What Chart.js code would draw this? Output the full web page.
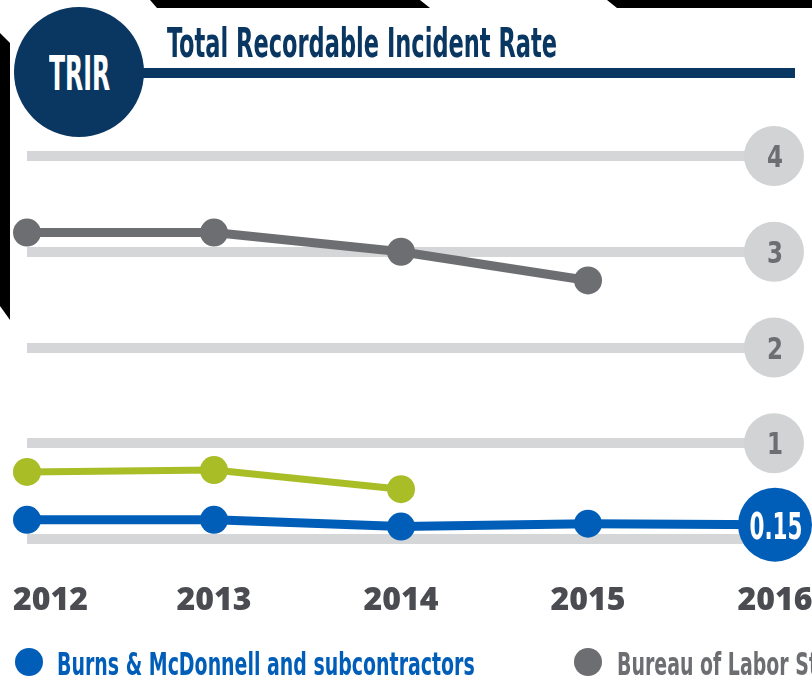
<!DOCTYPE html>
<html>
<head>
<meta charset="utf-8">
<title>TRIR</title>
<script src="https://cdn.jsdelivr.net/npm/chart.js@4.4.1/dist/chart.umd.min.js"></script>
<style>
  html, body { margin: 0; padding: 0; background: #fff; }
  body { width: 812px; height: 681px; overflow: hidden; position: relative;
         font-family: 'Liberation Sans Narrow', 'DejaVu Sans Condensed', sans-serif; font-weight: bold; }
  #c { position: absolute; left: 0; top: 0; }
  .deco { position: absolute; background: #000; }
  .txt { position: absolute; white-space: nowrap; line-height: 1; transform-origin: 0 0; }
  .dot { position: absolute; width: 28px; height: 28px; border-radius: 50%; }
</style>
</head>
<body>
<canvas id="c" width="900" height="681"></canvas>

<!-- cropped bits of the surrounding layout -->
<div class="deco" style="left:150px;top:0;width:280px;height:8px;clip-path:polygon(0 0,270px 0,280px 8px,7px 8px)"></div>
<div class="deco" style="left:607px;top:0;width:205px;height:8px;clip-path:polygon(0 0,100% 0,100% 100%,10px 100%)"></div>
<div class="deco" style="left:0;top:33px;width:10px;height:287px;clip-path:polygon(0 0,10px 10px,10px 287px,0 273px)"></div>

<div style="position:absolute;left:140px;top:68px;width:655px;height:10px;background:#0a3761"></div>
<div style="position:absolute;left:14px;top:7px;width:130px;height:130px;border-radius:50%;background:#0a3761"></div>
<div class="txt" id="badge" style="left:49px;top:49px;font-size:48px;color:#fff"></div>
<div class="txt" id="title" style="left:167px;top:23px;font-size:40px;color:#0a3761"></div>

<div id="legend"></div>

<script>
const years = ['2012', '2013', '2014', '2015', '2016'];
const burnsSubs = [0.20, 0.20, 0.13, 0.16, 0.15];
const burnsOwn = [0.70, 0.72, 0.52, null, null];
const laborStats = [3.2, 3.2, 3.0, 2.7, null];
const rateTicks = [1, 2, 3, 4];
const latestLabel = '0.15';

const seriesNames = ['Burns & McDonnell and subcontractors', 'Burns & McDonnell employees', 'Bureau of Labor Statistics'];
const seriesColors = ['#005eb8', '#a9bd27', '#6d6e71'];
const legendItems = [0, 2]; // only these show in the crop

const titleText = 'Total Recordable Incident Rate';
const badgeText = 'TRIR';

const condensed = "'Liberation Sans Narrow', 'DejaVu Sans Condensed', sans-serif";

// squeeze html text to the width it has in the picture
function fitText(el, text, width) {
    el.textContent = text;
    let w = el.offsetWidth;
    el.style.transform = 'scaleX(' + (width / w) + ')';
    return width / w;
}

function buildLegend() {
    const box = document.getElementById('legend');
    const spots = [{dot: 15, text: 57}, {dot: 574, text: 617}];
    let scale = null;
    legendItems.forEach((idx, i) => {
        let d = document.createElement('div');
        d.className = 'dot';
        d.style.left = spots[i].dot + 'px';
        d.style.top = '648px';
        d.style.background = seriesColors[idx];
        box.appendChild(d);

        let t = document.createElement('div');
        t.className = 'txt';
        t.style.left = spots[i].text + 'px';
        t.style.top = '648px';
        t.style.fontSize = '32px';
        t.style.color = idx === 0 ? '#005eb8' : '#6d6e71';
        box.appendChild(t);
        if (scale === null) {
            scale = fitText(t, seriesNames[idx], 418);
        } else {
            t.textContent = seriesNames[idx];
            t.style.transform = 'scaleX(' + scale + ')';
        }
    });
}

const circlesPlugin = {
    id: 'circles',
    beforeDatasetsDraw(chart) {
        const ctx = chart.ctx;
        const x = chart.scales.x, y = chart.scales.y;
        const cx = x.getPixelForValue(years.length - 1) - 1;
        ctx.save();
        // value "ticks" sitting in grey circles at the right end of each grid line
        rateTicks.forEach(v => {
            const cy = y.getPixelForValue(v);
            ctx.beginPath();
            ctx.arc(cx, cy, 30, 0, Math.PI * 2);
            ctx.fillStyle = '#d1d3d4';
            ctx.fill();
            ctx.fillStyle = '#6d6e71';
            ctx.font = 'bold 30px ' + condensed;
            ctx.textAlign = 'center';
            ctx.textBaseline = 'alphabetic';
            ctx.fillText(String(v), cx + 1, cy + 11, 16);
        });
        // year labels
        ctx.fillStyle = '#4a4c51';
        ctx.font = "800 32px 'Open Sans', sans-serif";
        years.forEach((yr, i) => {
            const px = x.getPixelForValue(i);
            if (i === 0) {
                ctx.textAlign = 'left';
                ctx.fillText(yr, px - 14, 610, 76);
            } else {
                ctx.textAlign = 'center';
                ctx.fillText(yr, px, 610, 76);
            }
        });
        ctx.restore();
    },
    afterDatasetsDraw(chart) {
        const ctx = chart.ctx;
        const last = chart.getDatasetMeta(0).data[years.length - 1];
        ctx.save();
        ctx.fillStyle = '#fff';
        ctx.font = 'bold 37px ' + condensed;
        ctx.textAlign = 'center';
        ctx.textBaseline = 'alphabetic';
        ctx.fillText(latestLabel, last.x + 1, last.y + 14, 53);
        ctx.restore();
    }
};

function drawChart() {
    let ctx = document.getElementById('c').getContext('2d');
    new Chart(ctx, {
        type: 'line',
        data: {
            labels: years,
            datasets: [{
                label: seriesNames[0],
                data: burnsSubs,
                borderColor: seriesColors[0],
                backgroundColor: seriesColors[0],
                borderWidth: 9,
                pointRadius: [14, 14, 14, 14, 37],
                pointBorderWidth: 0,
                clip: false
            }, {
                label: seriesNames[1],
                data: burnsOwn,
                borderColor: seriesColors[1],
                backgroundColor: seriesColors[1],
                borderWidth: 7,
                pointRadius: 14,
                pointBorderWidth: 0,
                clip: false
            }, {
                label: seriesNames[2],
                data: laborStats,
                borderColor: seriesColors[2],
                backgroundColor: seriesColors[2],
                borderWidth: 9,
                pointRadius: 14,
                pointBorderWidth: 0,
                clip: false
            }]
        },
        options: {
            responsive: false,
            animation: false,
            // autoPadding off, otherwise the big 0.15 point pushes the left edge in
            layout: { autoPadding: false, padding: { left: 27, right: 125, top: 156, bottom: 142 } },
            plugins: { legend: { display: false }, tooltip: { enabled: false } },
            scales: {
                x: { display: false, offset: false },
                y: {
                    min: 0,
                    max: 4,
                    ticks: { display: false, stepSize: 1 },
                    border: { display: false },
                    grid: { color: '#d5d6d8', lineWidth: 10, drawTicks: false }
                }
            }
        },
        plugins: [circlesPlugin]
    });
}

document.addEventListener('DOMContentLoaded', function() {
    fitText(document.getElementById('title'), titleText, 390);
    fitText(document.getElementById('badge'), badgeText, 61);
    buildLegend();
    drawChart();
});
</script>
</body>
</html>
